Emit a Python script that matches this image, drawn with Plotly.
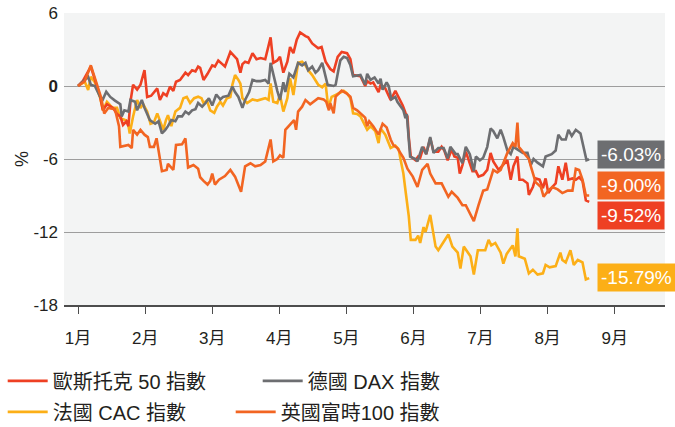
import plotly.graph_objects as go

# x = month position (1 = 1月 start), y = % change since start of year
months = [1, 2, 3, 4, 5, 6, 7, 8, 9]
month_labels = ["1月", "2月", "3月", "4月", "5月", "6月", "7月", "8月", "9月"]

stoxx_x = [1.00, 1.07, 1.19, 1.25, 1.33, 1.37, 1.43, 1.52, 1.58, 1.63, 1.67, 1.72, 1.75, 1.78, 1.82,
           1.88, 1.93, 1.99, 2.03, 2.09, 2.13, 2.18, 2.22, 2.27, 2.32, 2.37, 2.42, 2.46, 2.52, 2.60,
           2.64, 2.70, 2.75, 2.79, 2.82, 2.87, 2.93, 3.00, 3.04, 3.09, 3.15, 3.19, 3.27, 3.32, 3.37,
           3.42, 3.45, 3.49, 3.54, 3.60, 3.66, 3.72, 3.79, 3.87, 3.91, 3.97, 4.01, 4.06, 4.12, 4.16,
           4.21, 4.26, 4.31, 4.39, 4.43, 4.49, 4.54, 4.58, 4.63, 4.69, 4.76, 4.81, 4.87, 4.93, 5.01,
           5.06, 5.10, 5.21, 5.28, 5.31, 5.36, 5.40, 5.48, 5.51, 5.58, 5.66, 5.73, 5.78, 5.84, 5.88,
           5.91, 5.93, 5.96, 6.03, 6.07, 6.10, 6.15, 6.19, 6.25, 6.30, 6.37, 6.42, 6.46, 6.51, 6.57,
           6.61, 6.66, 6.69, 6.73, 6.78, 6.82, 6.88, 6.93, 6.97, 7.04, 7.10, 7.15, 7.19, 7.27, 7.33,
           7.40, 7.45, 7.49, 7.55, 7.58, 7.63, 7.70, 7.72, 7.78, 7.82, 7.88, 7.93, 7.97, 8.01, 8.07,
           8.12, 8.16, 8.22, 8.27, 8.31, 8.37, 8.42, 8.47, 8.52, 8.57, 8.62]
stoxx_y = [0.0, 0.4, 1.6, 0.6, -0.9, -2.0, -1.5, -1.8, -2.3, -2.5, -3.2, -2.9, -3.3, -1.3, 0.1,
           -0.3, 0.1, 1.3, -0.9, -0.8, -0.5, -0.2, -1.15, -0.6, -0.8, -0.05, -0.4, 0.35, 0.5, 1.1,
           0.9, 1.3, 1.2, 1.6, 1.5, 0.5, 1.0, 1.7, 1.6, 2.1, 1.8, 1.6, 2.8, 2.5, 2.2,
           1.1, 1.8, 2.0, 1.9, 2.7, 2.2, 2.3, 2.2, 4.0, 1.9, 2.1, 2.4, 1.1, 2.0, 3.2,
           2.7, 3.8, 4.4, 4.1, 4.0, 3.5, 3.3, 3.1, 3.2, 2.0, 1.4, 1.2, 2.4, 2.8, 2.7,
           2.2, 0.9, 0.8, 0.0, 0.4, 0.2, 0.3, -0.5, 0.1, -0.2, -1.15, -0.4, -0.9, -1.6, -2.2,
           -2.5, -4.2, -5.8, -6.1, -5.8, -5.9, -5.0, -5.6, -4.3, -5.4, -5.4, -5.0, -5.3, -6.1, -5.2,
           -5.8, -5.9, -7.2, -6.5, -5.4, -6.1, -7.0, -7.0, -7.45, -7.3, -6.9, -5.5, -6.2, -6.9, -6.5,
           -6.1, -7.7, -6.6, -5.8, -7.7, -7.7, -8.0, -8.95, -8.3, -7.6, -7.7, -8.4, -7.6, -8.8, -8.3,
           -8.0, -6.6, -7.7, -6.3, -7.7, -7.6, -7.7, -7.5, -7.8, -9.4, -9.52]

dax_x = [1.00, 1.07, 1.15, 1.19, 1.25, 1.33, 1.37, 1.42, 1.48, 1.55, 1.58, 1.63, 1.65, 1.69, 1.75,
         1.78, 1.85, 1.88, 1.95, 1.99, 2.07, 2.15, 2.20, 2.25, 2.30, 2.34, 2.39, 2.45, 2.49, 2.55,
         2.60, 2.65, 2.70, 2.75, 2.79, 2.85, 2.90, 2.95, 3.00, 3.06, 3.12, 3.16, 3.24, 3.30, 3.34,
         3.39, 3.45, 3.49, 3.55, 3.60, 3.66, 3.72, 3.79, 3.84, 3.87, 3.91, 3.97, 4.01, 4.06, 4.09,
         4.15, 4.21, 4.28, 4.34, 4.39, 4.43, 4.49, 4.54, 4.58, 4.64, 4.72, 4.81, 4.84, 4.88, 4.91,
         4.96, 5.01, 5.06, 5.10, 5.21, 5.28, 5.31, 5.36, 5.42, 5.48, 5.51, 5.54, 5.60, 5.63, 5.67,
         5.73, 5.76, 5.81, 5.85, 5.88, 5.90, 5.95, 6.03, 6.06, 6.13, 6.19, 6.25, 6.30, 6.37, 6.45,
         6.51, 6.55, 6.63, 6.66, 6.73, 6.78, 6.84, 6.90, 6.93, 6.99, 7.04, 7.10, 7.15, 7.19, 7.25,
         7.30, 7.34, 7.40, 7.45, 7.49, 7.57, 7.63, 7.70, 7.75, 7.79, 7.85, 7.93, 7.97, 8.06, 8.12,
         8.16, 8.21, 8.27, 8.31, 8.36, 8.42, 8.49, 8.54, 8.58, 8.62]
dax_y = [0.0, 0.35, 0.76, 0.1, 0.0, -0.9, -1.1, -0.47, -0.9, -1.2, -1.3, -1.5, -2.5, -2.0, -2.1,
         -1.15, -1.3, -2.0, -1.15, -1.8, -2.8, -3.1, -2.9, -3.9, -3.6, -3.3, -2.8, -2.9, -2.5, -2.5,
         -2.1, -2.3, -2.0, -1.9, -1.4, -1.7, -1.4, -1.0, -1.6, -0.7, -1.1, -0.9, -0.8, -0.05, -0.5,
         -0.9, -1.8, -1.15, -0.5, 0.5, 0.4, 0.4, 0.5, 0.2, 1.9, 0.9, -0.4, -1.15, 0.3, -0.5,
         1.0, 0.7, 1.9, 1.7, 1.9, 1.3, 1.6, 1.1, 1.3, 1.9, 0.1, 0.0, 0.1, 1.3, 2.1,
         2.4, 2.3, 1.7, 0.8, 0.9, 0.1, 1.0, 0.5, 0.7, 0.2, 0.6, -0.3, 0.3, 0.0, -1.1,
         -0.9, -1.3, -1.7, -2.0, -2.65, -2.3, -5.8, -6.0, -6.2, -5.0, -5.6, -4.2, -5.5, -5.1, -5.1,
         -5.95, -5.0, -5.6, -5.6, -6.35, -5.0, -5.6, -7.0, -5.8, -6.1, -5.9, -5.0, -3.5, -3.7, -4.3,
         -3.6, -4.2, -5.3, -5.6, -5.0, -5.3, -5.5, -5.5, -6.5, -6.0, -6.3, -6.6, -5.8, -5.6, -5.3,
         -4.0, -4.4, -4.4, -3.6, -4.1, -3.6, -3.9, -5.0, -6.1, -6.03]

cac_x = [1.00, 1.10, 1.15, 1.19, 1.25, 1.33, 1.37, 1.43, 1.48, 1.52, 1.58, 1.63, 1.70, 1.74, 1.77,
         1.82, 1.88, 1.93, 1.97, 2.03, 2.08, 2.13, 2.18, 2.22, 2.27, 2.31, 2.34, 2.39, 2.45, 2.52,
         2.57, 2.62, 2.67, 2.73, 2.79, 2.84, 2.87, 2.92, 2.97, 3.03, 3.07, 3.12, 3.16, 3.22, 3.27,
         3.30, 3.34, 3.39, 3.42, 3.45, 3.52, 3.60, 3.67, 3.79, 3.84, 3.87, 3.91, 3.97, 4.01, 4.06,
         4.12, 4.16, 4.21, 4.28, 4.34, 4.39, 4.43, 4.49, 4.54, 4.58, 4.64, 4.69, 4.73, 4.78, 4.84,
         4.91, 4.96, 5.01, 5.06, 5.10, 5.16, 5.21, 5.28, 5.31, 5.36, 5.43, 5.48, 5.51, 5.58, 5.66,
         5.73, 5.78, 5.81, 5.85, 5.88, 5.93, 5.96, 6.03, 6.07, 6.10, 6.15, 6.18, 6.25, 6.33, 6.37,
         6.45, 6.52, 6.58, 6.66, 6.70, 6.75, 6.85, 6.90, 6.96, 7.07, 7.12, 7.16, 7.22, 7.30, 7.34,
         7.39, 7.48, 7.52, 7.55, 7.57, 7.66, 7.72, 7.78, 7.85, 7.93, 7.97, 8.03, 8.12, 8.19, 8.22,
         8.27, 8.34, 8.39, 8.45, 8.52, 8.57, 8.62]
cac_y = [0.0, 0.35, -0.33, 0.76, 0.3, -1.0, -2.0, -1.3, -1.6, -1.8, -1.8, -2.65, -2.8, -2.9, -3.9,
         -2.5, -1.15, -1.8, -1.5, -2.1, -3.1, -3.0, -2.25, -2.8, -3.6, -2.8, -2.4, -3.3, -2.1, -1.8,
         -1.0, -0.9, -1.4, -1.0, -0.88, -1.0, -1.4, -1.2, -2.0, -2.2, -1.7, -1.3, -1.6, -1.0, -0.9,
         0.1, 0.9, 0.5, 0.2, -1.0, -1.4, -1.1, -1.2, -1.0, -1.15, 0.22, -1.3, -1.4, -0.74, -2.1,
         -1.0, 0.63, -0.74, 1.9, 2.0, 1.7, 1.3, 0.9, 0.5, 0.1, -0.1, 0.2, -1.8, -0.9, -0.74,
         -0.5, -0.4, -0.6, -1.0, -2.25, -2.3, -2.5, -3.3, -3.6, -3.3, -3.7, -4.7, -3.5, -4.0, -5.1,
         -4.9, -5.2, -6.1, -7.2, -8.55, -10.7, -12.65, -12.65, -12.3, -12.9, -11.6, -12.0, -10.6, -13.2, -13.5,
         -12.8, -12.2, -13.2, -13.7, -15.0, -13.2, -14.0, -15.5, -13.5, -13.5, -12.65, -13.1, -12.9, -13.7, -14.6,
         -13.8, -13.1, -14.0, -11.7, -14.0, -14.2, -15.4, -15.1, -15.5, -15.4, -14.7, -14.9, -14.8, -13.7, -14.3,
         -14.5, -13.5, -14.7, -14.3, -14.5, -15.9, -15.79]

ftse_x = [1.00, 1.10, 1.19, 1.27, 1.34, 1.39, 1.45, 1.55, 1.61, 1.63, 1.70, 1.75, 1.80, 1.82, 1.88,
          1.93, 1.99, 2.04, 2.07, 2.13, 2.17, 2.22, 2.25, 2.32, 2.34, 2.42, 2.46, 2.55, 2.60, 2.64,
          2.72, 2.79, 2.82, 2.87, 2.93, 2.97, 3.00, 3.04, 3.10, 3.19, 3.27, 3.34, 3.43, 3.49, 3.57,
          3.64, 3.72, 3.79, 3.87, 3.91, 3.97, 4.01, 4.06, 4.09, 4.16, 4.22, 4.25, 4.28, 4.34, 4.39,
          4.46, 4.51, 4.58, 4.66, 4.70, 4.74, 4.76, 4.81, 4.84, 4.93, 5.00, 5.06, 5.10, 5.16, 5.21,
          5.28, 5.31, 5.34, 5.40, 5.48, 5.54, 5.60, 5.66, 5.70, 5.76, 5.81, 5.85, 5.91, 5.99, 6.06,
          6.13, 6.21, 6.25, 6.33, 6.42, 6.52, 6.57, 6.66, 6.73, 6.78, 6.85, 6.90, 6.97, 7.04, 7.10,
          7.15, 7.19, 7.25, 7.30, 7.40, 7.48, 7.52, 7.55, 7.57, 7.63, 7.72, 7.75, 7.82, 7.90, 7.94,
          8.01, 8.07, 8.15, 8.22, 8.30, 8.37, 8.42, 8.47, 8.52, 8.57, 8.62]
ftse_y = [0.0, 0.4, 1.7, 0.22, -0.88, -2.25, -1.8, -1.9, -3.3, -5.0, -4.9, -4.85, -5.1, -3.6, -4.0,
          -3.6, -4.0, -4.2, -5.0, -5.0, -4.3, -5.8, -7.0, -6.9, -6.4, -6.9, -4.85, -4.8, -4.3, -6.7,
          -6.5, -6.8, -7.5, -7.8, -8.1, -7.8, -7.2, -8.1, -7.7, -7.4, -6.9, -7.45, -8.7, -6.6, -6.35,
          -6.6, -6.5, -6.2, -4.4, -6.2, -6.0, -5.7, -5.9, -3.6, -3.2, -2.8, -3.6, -2.1, -1.7, -1.15,
          -1.5, -1.3, -1.0, -1.1, -1.3, -2.0, -1.4, -2.25, -0.88, -0.38, -0.6, -0.88, -1.8, -2.0, -2.25,
          -2.6, -3.3, -2.9, -3.3, -4.0, -3.1, -3.4, -4.4, -4.85, -5.1, -5.5, -5.9, -6.8, -7.45, -8.3,
          -6.9, -6.4, -7.2, -8.0, -8.0, -9.1, -8.7, -9.2, -9.8, -9.8, -10.5, -11.1, -9.8, -8.6, -8.5,
          -7.5, -6.9, -7.1, -6.9, -5.5, -4.7, -5.0, -3.0, -5.0, -5.4, -6.0, -6.6, -7.9, -8.3, -9.1,
          -8.6, -8.3, -8.5, -8.8, -8.6, -8.6, -6.8, -6.9, -7.7, -9.0, -9.0]

end_labels = ["-9.52%", "-6.03%", "-15.79%", "-9.00%"]

RED = "#ee4023"
GRAY = "#6d6e71"
YELLOW = "#fcaf17"
ORANGE = "#f26522"
FONT = "Liberation Sans, Noto Sans CJK TC, sans-serif"

fig = go.Figure()

# drawing order: yellow, red, gray, orange (orange spikes sit on top)
fig.add_trace(go.Scatter(x=cac_x, y=cac_y, mode="lines", name="法國 CAC 指數",
                         line=dict(color=YELLOW, width=2.6), legend="legend2"))
fig.add_trace(go.Scatter(x=stoxx_x, y=stoxx_y, mode="lines", name="歐斯托克 50 指數",
                         line=dict(color=RED, width=2.6), legend="legend"))
fig.add_trace(go.Scatter(x=dax_x, y=dax_y, mode="lines", name="德國 DAX 指數",
                         line=dict(color=GRAY, width=2.6), legend="legend"))
fig.add_trace(go.Scatter(x=ftse_x, y=ftse_y, mode="lines", name="英國富時100 指數",
                         line=dict(color=ORANGE, width=2.6), legend="legend2"))

# end-value boxes (shifted a little so they don't collide)
boxes = [
    (dax_x[-1], dax_y[-1], end_labels[1], GRAY, 5),
    (ftse_x[-1], ftse_y[-1], end_labels[3], ORANGE, 10),
    (stoxx_x[-1], stoxx_y[-1], end_labels[0], RED, -14),
    (cac_x[-1], cac_y[-1], end_labels[2], YELLOW, 1),
]
for bx, by, txt, col, ys in boxes:
    fig.add_annotation(x=bx, y=by, text=txt, showarrow=False, xanchor="left", yanchor="middle",
                       xshift=8, yshift=ys, bgcolor=col, borderpad=3,
                       font=dict(family=FONT, size=19, color="white"))

fig.update_layout(
    width=675, height=427,
    margin=dict(l=64, r=10, t=13, b=122, autoexpand=False),
    paper_bgcolor="white",
    plot_bgcolor="#f3f4f4",
    font=dict(family=FONT, size=17, color="#231f20"),
    showlegend=True,
    legend=dict(orientation="h", x=-0.102, xanchor="left", y=-0.26, yanchor="middle",
                font=dict(size=20), itemwidth=40, entrywidth=200, bgcolor="rgba(0,0,0,0)"),
    legend2=dict(orientation="h", x=-0.102, xanchor="left", y=-0.366, yanchor="middle",
                 font=dict(size=20), itemwidth=40, entrywidth=173, bgcolor="rgba(0,0,0,0)"),
)
fig.update_xaxes(range=[0.79, 9.75], tickvals=months, ticktext=month_labels, automargin=False,
                 showgrid=False, zeroline=False, showline=True, linecolor="#4d4d4d", linewidth=1.5,
                 ticks="outside", ticklen=7, tickcolor="#4d4d4d", tickwidth=1.2,
                 ticklabelstandoff=10, tickfont=dict(size=17))
fig.update_yaxes(range=[-18, 6], tickvals=[-18, -12, -6, 0, 6], automargin=False,
                 ticktext=["-18", "-12", "-6", "<b>0</b>", "6"], ticklabeloverflow="allow",
                 showgrid=True, gridcolor="#9d9d9d", gridwidth=1.2, zeroline=False,
                 showline=False, ticks="", ticklabelstandoff=5, tickfont=dict(size=17),
                 title=dict(text="%", standoff=0, font=dict(size=18)))

# drop the browser's default 8px body margin so the figure fills the window
fig.write_html("out.html", config={"displayModeBar": False},
               post_script="document.body.style.margin='0';")
